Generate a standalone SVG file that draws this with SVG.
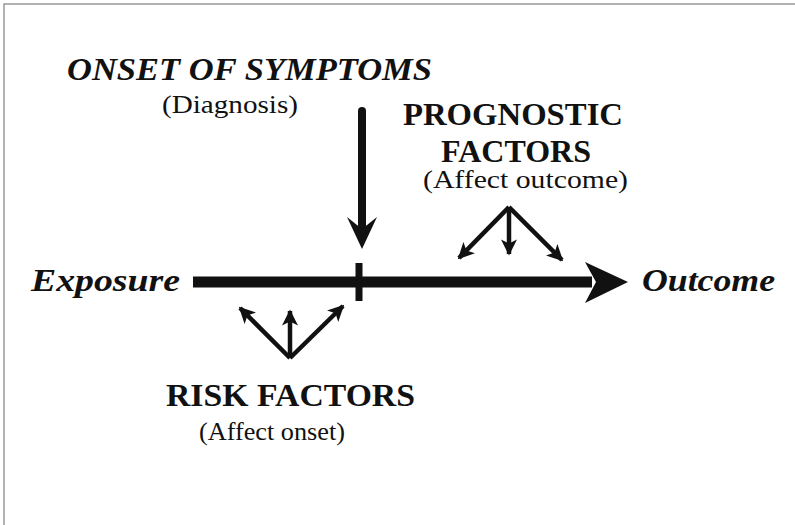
<svg xmlns="http://www.w3.org/2000/svg" width="795" height="525" viewBox="0 0 795 525">
<style>
  .bi { font-family: "Liberation Serif", "Times New Roman", serif; font-weight: bold; font-style: italic; font-size: 32px; fill: #111; }
  .b { font-family: "Liberation Serif", "Times New Roman", serif; font-weight: bold; font-size: 31px; fill: #111; }
  .r { font-family: "Liberation Serif", "Times New Roman", serif; font-size: 25px; fill: #111; }
  .ln { stroke: #111; fill: none; }
  .thin { stroke: #111; stroke-width: 4.5; fill: none; }
</style>
<defs>
  <marker id="ah" viewBox="0 0 10 10" refX="9" refY="5" markerWidth="3.6" markerHeight="3.6" orient="auto" markerUnits="strokeWidth">
    <path d="M0,0 L10,5 L0,10 L2.5,5 Z" fill="#111"/>
  </marker>
</defs>
<rect width="795" height="525" fill="#fff"/>
<path d="M4,525 L4,4 L795,4" stroke="#999" stroke-width="1.5" fill="none"/>

<g id="onset">
  <text class="bi" x="67" y="80" textLength="365" lengthAdjust="spacingAndGlyphs">ONSET OF SYMPTOMS</text>
  <text class="r" x="162" y="113" textLength="136" lengthAdjust="spacingAndGlyphs">(Diagnosis)</text>
</g>
<g id="prognostic">
  <text class="b" x="403" y="125" textLength="220" lengthAdjust="spacingAndGlyphs">PROGNOSTIC</text>
  <text class="b" x="441" y="162" textLength="150" lengthAdjust="spacingAndGlyphs">FACTORS</text>
  <text class="r" x="423" y="188" textLength="205" lengthAdjust="spacingAndGlyphs">(Affect outcome)</text>
</g>
<g id="exposure">
  <text class="bi" x="31" y="291" textLength="149" lengthAdjust="spacingAndGlyphs">Exposure</text>
</g>
<g id="outcome">
  <text class="bi" x="642" y="291" textLength="133" lengthAdjust="spacingAndGlyphs">Outcome</text>
</g>
<g id="risk">
  <text class="b" x="166" y="406" textLength="249" lengthAdjust="spacingAndGlyphs">RISK  FACTORS</text>
  <text class="r" x="199" y="440" textLength="146" lengthAdjust="spacingAndGlyphs">(Affect onset)</text>
</g>

<g id="connectors">
  <!-- main timeline -->
  <line class="ln" x1="193" y1="282" x2="592" y2="282" stroke-width="11"/>
  <path d="M585,262 L628,282 L585,303 L596,282 Z" fill="#111"/>
  <!-- tick -->
  <line class="ln" x1="359" y1="263" x2="359" y2="301" stroke-width="7"/>
  <!-- onset arrow -->
  <line class="ln" x1="362" y1="111" x2="362" y2="226" stroke-width="8" stroke-linecap="round"/>
  <path d="M347,217 L362,249 L377,217 L362,229 Z" fill="#111"/>
  <!-- prognostic arrows -->
  <line class="thin" x1="509" y1="207" x2="459" y2="258" marker-end="url(#ah)"/>
  <line class="thin" x1="509" y1="207" x2="509" y2="254" marker-end="url(#ah)"/>
  <line class="thin" x1="509" y1="207" x2="562" y2="260" marker-end="url(#ah)"/>
  <!-- risk arrows -->
  <line class="thin" x1="290" y1="358" x2="240" y2="308" marker-end="url(#ah)"/>
  <line class="thin" x1="290" y1="358" x2="290" y2="311" marker-end="url(#ah)"/>
  <line class="thin" x1="290" y1="358" x2="343" y2="306" marker-end="url(#ah)"/>
</g>
</svg>
